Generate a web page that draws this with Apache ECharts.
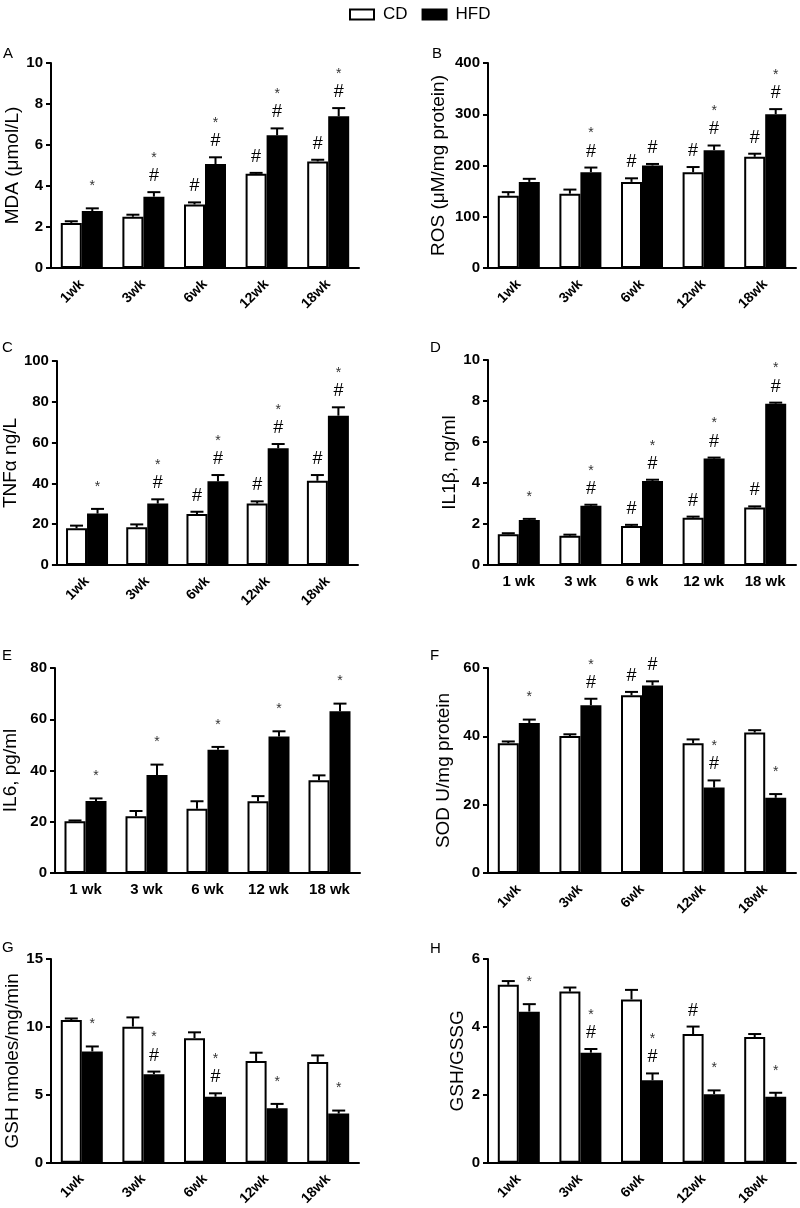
<!DOCTYPE html>
<html><head><meta charset="utf-8">
<script src="https://cdn.jsdelivr.net/npm/echarts@6/dist/echarts.min.js"></script>
<style>html,body{margin:0;padding:0;background:#fff}#c{width:800px;height:1208px}</style>
</head><body><div id="c"></div>
<script>
// ---------- DATA ----------
const weeks = ['1wk', '3wk', '6wk', '12wk', '18wk'];
const weeksSpaced = ['1 wk', '3 wk', '6 wk', '12 wk', '18 wk'];

// A: MDA
const mdaCD = [2.2, 2.5, 3.1, 4.6, 5.2];
const mdaCDErr = [0.08, 0.1, 0.1, 0.04, 0.08];
const mdaHFD = [2.78, 3.48, 5.07, 6.47, 7.4];
const mdaHFDErr = [0.13, 0.22, 0.33, 0.34, 0.4];
const mdaCDMarks = ['', '', '#', '#', '#'];
const mdaHFDMarks = ['*', '*#', '*#', '*#', '*#'];

// B: ROS
const rosCD = [141, 145, 168, 187, 217];
const rosCDErr = [7, 8, 7, 10, 6];
const rosHFD = [168, 187, 200, 230, 300];
const rosHFDErr = [6, 9, 3, 9, 10];
const rosCDMarks = ['', '', '#', '#', '#'];
const rosHFDMarks = ['', '*#', '#', '*#', '*#'];

// C: TNFa
const tnfCD = [18, 18.5, 25, 30.1, 41.3];
const tnfCDErr = [1.3, 1.4, 1.1, 1.1, 2.8];
const tnfHFD = [25.2, 30.1, 41, 57.2, 73.2];
const tnfHFDErr = [2.3, 2.1, 3.1, 2.1, 4.1];
const tnfCDMarks = ['', '', '#', '#', '#'];
const tnfHFDMarks = ['*', '*#', '*#', '*#', '*#'];

// D: IL1b
const il1CD = [1.5, 1.43, 1.9, 2.31, 2.81];
const il1CDErr = [0.05, 0.05, 0.06, 0.05, 0.05];
const il1HFD = [2.2, 2.89, 4.1, 5.19, 7.87];
const il1HFDErr = [0.05, 0.05, 0.06, 0.05, 0.05];
const il1CDMarks = ['', '', '#', '#', '#'];
const il1HFDMarks = ['*', '*#', '*#', '*#', '*#'];

// E: IL6
const il6CD = [20.2, 22.1, 25.1, 28, 36.2];
const il6CDErr = [0.3, 2.1, 2.9, 2, 1.9];
const il6HFD = [28.1, 38.2, 48.1, 53.3, 63.1];
const il6HFDErr = [1, 4.1, 1.1, 2, 3];
const il6CDMarks = ['', '', '', '', ''];
const il6HFDMarks = ['*', '*', '*', '*', '*'];

// F: SOD
const sodCD = [38, 40.1, 52, 38, 41.1];
const sodCDErr = [0.5, 0.5, 1, 1.1, 0.7];
const sodHFD = [43.9, 49.1, 54.9, 25, 22];
const sodHFDErr = [1, 1.9, 1.2, 2.1, 1.1];
const sodCDMarks = ['', '', '#', '', ''];
const sodHFDMarks = ['*', '*#', '#', '*#', '*'];

// G: GSH
const gshCD = [10.5, 10.02, 9.17, 7.49, 7.42];
const gshCDErr = [0.12, 0.68, 0.43, 0.61, 0.48];
const gshHFD = [8.19, 6.52, 4.86, 4.01, 3.62];
const gshHFDErr = [0.37, 0.19, 0.25, 0.32, 0.22];
const gshCDMarks = ['', '', '', '', ''];
const gshHFDMarks = ['*', '*#', '*#', '*', '*'];

// H: GSH/GSSG
const ratioCD = [5.24, 5.04, 4.81, 3.79, 3.7];
const ratioCDErr = [0.11, 0.12, 0.28, 0.22, 0.09];
const ratioHFD = [4.45, 3.24, 2.43, 2.02, 1.94];
const ratioHFDErr = [0.22, 0.11, 0.2, 0.11, 0.12];
const ratioCDMarks = ['', '', '', '#', ''];
const ratioHFDMarks = ['*', '*#', '*#', '*', '*'];

// ---------- LAYOUT ----------
const FONT = '"Liberation Sans", Arial, sans-serif';
const BAR_W = 21;

const panels = [
  {letter: 'A', name: 'MDA (\u03bcmol/L)', max: 10, interval: 2, cats: weeks, rot: 45,
   cd: mdaCD, cdErr: mdaCDErr, hfd: mdaHFD, hfdErr: mdaHFDErr, cdM: mdaCDMarks, hfdM: mdaHFDMarks,
   left: 51, top: 63, height: 205, nameGap: 22, lx: 3, ly: 46},
  {letter: 'B', name: 'ROS (\u03bcM/mg protein)', max: 400, interval: 100, cats: weeks, rot: 45,
   cd: rosCD, cdErr: rosCDErr, hfd: rosHFD, hfdErr: rosHFDErr, cdM: rosCDMarks, hfdM: rosHFDMarks,
   left: 488, top: 63, height: 205, nameGap: 40, lx: 432, ly: 46},
  {letter: 'C', name: 'TNF\u03b1 ng/L', max: 100, interval: 20, cats: weeks, rot: 45,
   cd: tnfCD, cdErr: tnfCDErr, hfd: tnfHFD, hfdErr: tnfHFDErr, cdM: tnfCDMarks, hfdM: tnfHFDMarks,
   left: 50, top: 361, height: 204, nameGap: 32, lx: 2, ly: 340},
  {letter: 'D', name: 'IL1\u03b2, ng/ml', max: 10, interval: 2, cats: weeksSpaced, rot: 0,
   cd: il1CD, cdErr: il1CDErr, hfd: il1HFD, hfdErr: il1HFDErr, cdM: il1CDMarks, hfdM: il1HFDMarks,
   left: 488, top: 360, height: 205, nameGap: 29, lx: 430, ly: 340},
  {letter: 'E', name: 'IL6, pg/ml', max: 80, interval: 20, cats: weeksSpaced, rot: 0,
   cd: il6CD, cdErr: il6CDErr, hfd: il6HFD, hfdErr: il6HFDErr, cdM: il6CDMarks, hfdM: il6HFDMarks,
   left: 52, top: 668, height: 205, nameGap: 35, lx: 2, ly: 648},
  {letter: 'F', name: 'SOD U/mg protein', max: 60, interval: 20, cats: weeks, rot: 45,
   cd: sodCD, cdErr: sodCDErr, hfd: sodHFD, hfdErr: sodHFDErr, cdM: sodCDMarks, hfdM: sodHFDMarks,
   left: 488, top: 668, height: 205, nameGap: 35, lx: 430, ly: 648},
  {letter: 'G', name: 'GSH nmoles/mg/min', max: 15, interval: 5, cats: weeks, rot: 45,
   cd: gshCD, cdErr: gshCDErr, hfd: gshHFD, hfdErr: gshHFDErr, cdM: gshCDMarks, hfdM: gshHFDMarks,
   left: 51, top: 959, height: 206, nameGap: 28, lx: 2, ly: 940},
  {letter: 'H', name: 'GSH/GSSG', max: 6, interval: 2, cats: weeks, rot: 45,
   cd: ratioCD, cdErr: ratioCDErr, hfd: ratioHFD, hfdErr: ratioHFDErr, cdM: ratioCDMarks, hfdM: ratioHFDMarks,
   left: 488, top: 959, height: 206, nameGap: 20, lx: 430, ly: 941}
];

const grid = [], xAxis = [], yAxis = [], series = [], graphic = [];
const axisLineStyle = {color: '#000', width: 2};

panels.forEach((p, i) => {
  grid.push({left: p.left, top: p.top, width: 308, height: p.height});
  xAxis.push({
    type: 'category', gridIndex: i, data: p.cats,
    axisLine: {lineStyle: axisLineStyle},
    axisTick: {alignWithLabel: true, length: 6, lineStyle: axisLineStyle},
    axisLabel: {interval: 0, rotate: p.rot, fontWeight: 'bold', fontFamily: FONT,
      fontSize: p.rot ? 14 : 15, color: '#000', margin: p.rot ? 14 : 9}
  });
  yAxis.push({
    type: 'value', gridIndex: i, min: 0, max: p.max, interval: p.interval,
    axisLine: {show: true, lineStyle: axisLineStyle},
    axisTick: {show: true, length: 5, lineStyle: axisLineStyle},
    splitLine: {show: false},
    axisLabel: {fontWeight: 'bold', fontFamily: FONT, fontSize: 15, color: '#000', margin: 8},
    name: p.name, nameLocation: 'middle', nameGap: p.nameGap,
    nameTextStyle: {fontSize: 19, fontFamily: FONT, color: '#000'}
  });
  series.push({
    type: 'bar', name: 'CD', xAxisIndex: i, yAxisIndex: i, data: p.cd,
    barWidth: BAR_W, barGap: '0%',
    itemStyle: {color: '#fff', borderColor: '#000', borderWidth: 2}
  });
  series.push({
    type: 'bar', name: 'HFD', xAxisIndex: i, yAxisIndex: i, data: p.hfd,
    barWidth: BAR_W, barGap: '0%',
    itemStyle: {color: '#000', borderColor: '#000', borderWidth: 2}
  });
  // error bars + significance marks
  const items = [];
  p.cd.forEach((v, k) => items.push({cat: k, v: v, e: p.cdErr[k], side: -1, mark: p.cdM[k]}));
  p.hfd.forEach((v, k) => items.push({cat: k, v: v, e: p.hfdErr[k], side: 1, mark: p.hfdM[k]}));
  series.push({
    type: 'custom', xAxisIndex: i, yAxisIndex: i, z: 5,
    data: items.map(it => [it.cat, it.v, it.e]),
    encode: {x: 0, y: 1},
    renderItem: (params, api) => {
      const it = items[params.dataIndex];
      const p0 = api.coord([it.cat, it.v]);
      const p1 = api.coord([it.cat, it.v + it.e]);
      const x = p0[0] + it.side * BAR_W / 2;
      const ch = [
        {type: 'line', shape: {x1: x, y1: p0[1], x2: x, y2: p1[1]}, style: {stroke: '#000', lineWidth: 2}},
        {type: 'line', shape: {x1: x - 6.5, y1: p1[1], x2: x + 6.5, y2: p1[1]}, style: {stroke: '#000', lineWidth: 2}}
      ];
      const hasHash = it.mark.indexOf('#') >= 0, hasStar = it.mark.indexOf('*') >= 0;
      if (hasHash) ch.push({type: 'text', x: x, y: p1[1] - 16,
        style: {text: '#', fontSize: 18, fontFamily: FONT, fill: '#000', align: 'center', verticalAlign: 'middle'}});
      if (hasStar) ch.push({type: 'text', x: x, y: p1[1] - (hasHash ? 34 : 22),
        style: {text: '*', fontSize: 14, fontFamily: FONT, fill: '#333', align: 'center', verticalAlign: 'middle'}});
      return {type: 'group', children: ch};
    }
  });
  graphic.push({type: 'text', left: p.lx, top: p.ly,
    style: {text: p.letter, fontSize: 15, fontFamily: FONT, fill: '#000'}});
});

const chart = echarts.init(document.getElementById('c'), null, {renderer: 'canvas'});
chart.setOption({
  animation: false,
  backgroundColor: '#fff',
  legend: {
    data: ['CD', 'HFD'], left: 344, top: 1, icon: 'rect',
    itemWidth: 24, itemHeight: 10, itemGap: 14,
    textStyle: {fontSize: 17, fontFamily: FONT, color: '#000', padding: [0, 0, 0, 4]}
  },
  grid, xAxis, yAxis, series, graphic
});
</script>
</body></html>
